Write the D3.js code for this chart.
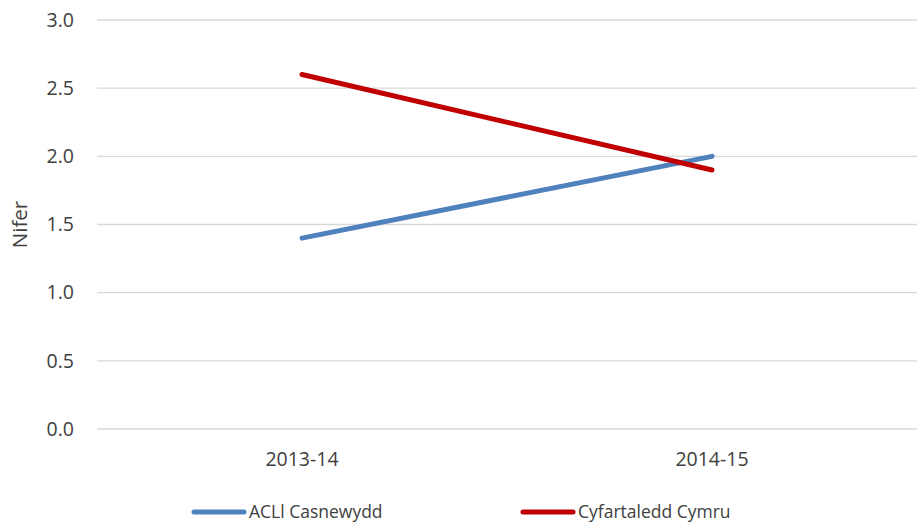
<!DOCTYPE html>
<html>
<head>
<meta charset="utf-8">
<script src="https://cdn.jsdelivr.net/npm/d3@7"></script>
<style>
  body { margin: 0; background: #fff; }
  text { font-family: "Open Sans", "Liberation Sans", sans-serif; fill: #404040; }
</style>
</head>
<body>
<div id="chart"></div>
<script>
var categories = ['2013-14', '2014-15'];
var seriesNames = ['ACLl Casnewydd', 'Cyfartaledd Cymru'];
var seriesColors = ['#4f81bd', '#c00000'];
var casnewydd = [1.4, 2.0];
var cymru = [2.6, 1.9];
var yTicks = [0, 0.5, 1.0, 1.5, 2.0, 2.5, 3.0];

var width = 917,
    height = 523,
    margin = { top: 20, right: 0, bottom: 94, left: 97 };

var svg = d3.select('#chart').append('svg')
    .attr('width', width)
    .attr('height', height);

var x = d3.scaleBand()
    .domain(categories)
    .range([margin.left, width - margin.right]);

var y = d3.scaleLinear()
    .domain([0, 3])
    .range([height - margin.bottom, margin.top]);

//  gridlines
svg.append('g').selectAll('line')
    .data(yTicks)
    .enter().append('line')
    .attr('x1', margin.left)
    .attr('x2', width - margin.right)
    .attr('y1', function(d) { return y(d); })
    .attr('y2', function(d) { return y(d); })
    .attr('stroke', '#d9d9d9')
    .attr('stroke-width', 1.3);

//  y axis labels
var yAxis = svg.append('g')
    .attr('transform', 'translate(' + margin.left + ',0)')
    .call(d3.axisLeft(y).tickValues(yTicks).tickFormat(d3.format('.1f')).tickSize(0).tickPadding(23));
yAxis.select('.domain').remove();
yAxis.selectAll('text').style('font-size', '19.5px').attr('fill', '#404040');

//  x axis labels
var xAxis = svg.append('g')
    .attr('transform', 'translate(0,' + (height - margin.bottom) + ')')
    .call(d3.axisBottom(x).tickSize(0).tickPadding(23));
xAxis.select('.domain').remove();
xAxis.selectAll('text').style('font-size', '19.5px').attr('fill', '#404040');

//  y axis title
svg.append('text')
    .attr('transform', 'translate(27,' + (y(1.5)) + ') rotate(-90)')
    .attr('text-anchor', 'middle')
    .style('font-size', '20.5px')
    .text('Nifer');

//  lines
var line = d3.line()
    .x(function(d, i) { return x(categories[i]) + x.bandwidth() / 2; })
    .y(function(d) { return y(d); });

[casnewydd, cymru].forEach(function(vals, i) {
    svg.append('path')
        .datum(vals)
        .attr('d', line)
        .attr('fill', 'none')
        .attr('stroke', seriesColors[i])
        .attr('stroke-width', 5)
        .attr('stroke-linecap', 'round');
});

//  legend
var legendX = [194, 523];
var legend = svg.selectAll('g.legend')
    .data(seriesNames)
    .enter().append('g')
    .attr('class', 'legend')
    .attr('transform', function(d, i) { return 'translate(' + legendX[i] + ',512)'; });

legend.append('line')
    .attr('x1', 0)
    .attr('x2', 50)
    .attr('stroke', function(d, i) { return seriesColors[i]; })
    .attr('stroke-width', 5)
    .attr('stroke-linecap', 'round');

legend.append('text')
    .attr('x', 55)
    .attr('dy', '0.35em')
    .style('font-size', '17.5px')
    .text(function(d) { return d; });
</script>
</body>
</html>
